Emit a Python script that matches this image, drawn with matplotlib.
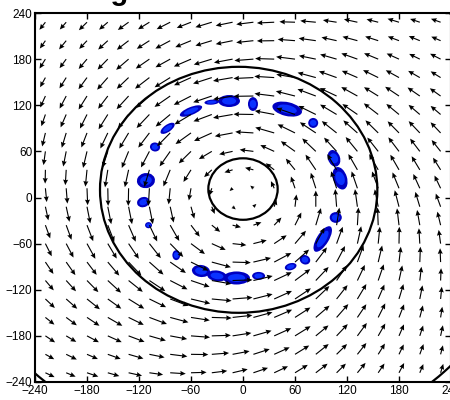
import numpy as np
import matplotlib.pyplot as plt
from matplotlib.patches import Ellipse, Circle

plt.rcParams['font.family'] = ['Liberation Sans', 'DejaVu Sans']

# grid of arrow tails (same for x and y)
grid_pts = [-228, -204, -180, -156, -132, -108, -84, -60, -36, -12,
            12, 36, 60, 84, 108, 132, 156, 180, 204, 228]

# arrow direction in degrees (rows top -> bottom, columns left -> right)
arrow_dir = [
    [235, 232, 228, 224, 219, 215, 210, 204, 199, 193, 188, 183, 178, 174, 170, 166, 164, 161, 159, 158],
    [238, 234, 230, 226, 221, 216, 211, 205, 199, 193, 187, 181, 175, 171, 166, 163, 160, 157, 155, 154],
    [241, 237, 233, 229, 224, 218, 212, 206, 199, 192, 185, 178, 172, 167, 162, 158, 155, 153, 151, 150],
    [244, 241, 237, 232, 227, 221, 215, 207, 200, 191, 183, 176, 169, 163, 158, 154, 151, 148, 147, 145],
    [248, 245, 241, 236, 231, 225, 218, 210, 201, 191, 181, 172, 164, 157, 152, 148, 145, 143, 142, 141],
    [253, 249, 246, 241, 236, 230, 223, 214, 203, 191, 179, 168, 159, 151, 146, 142, 139, 137, 136, 136],
    [258, 255, 251, 247, 242, 236, 229, 219, 207, 192, 176, 162, 151, 143, 138, 135, 132, 131, 130, 130],
    [263, 260, 258, 254, 250, 245, 238, 228, 214, 194, 172, 153, 141, 133, 129, 126, 125, 124, 124, 125],
    [269, 267, 265, 262, 259, 255, 250, 241, 227, 200, 164, 139, 126, 121, 118, 117, 117, 117, 118, 119],
    [275, 274, 272, 271, 269, 267, 265, 261, 253, 226, 136, 112, 107, 106, 106, 107, 108, 110, 112, 113],
    [281, 281, 280, 280, 280, 280, 281, 284, 290, 316, 47, 75, 84, 90, 94, 97, 100, 103, 105, 108],
    [288, 288, 289, 289, 291, 293, 297, 304, 318, 344, 22, 50, 66, 75, 82, 87, 92, 96, 99, 102],
    [294, 295, 296, 298, 301, 305, 311, 320, 333, 353, 16, 37, 53, 64, 72, 79, 85, 89, 93, 97],
    [301, 302, 304, 307, 310, 315, 322, 331, 343, 358, 15, 31, 45, 56, 65, 72, 78, 84, 88, 92],
    [307, 309, 311, 314, 318, 323, 330, 339, 349, 2, 15, 28, 40, 50, 59, 67, 73, 79, 84, 88],
    [313, 315, 318, 321, 325, 331, 337, 345, 354, 5, 16, 27, 37, 47, 55, 62, 69, 75, 80, 85],
    [318, 320, 323, 327, 331, 337, 343, 350, 358, 7, 17, 26, 36, 44, 52, 59, 66, 71, 77, 82],
    [323, 326, 329, 333, 337, 342, 348, 355, 2, 10, 18, 27, 35, 43, 50, 57, 63, 69, 74, 79],
    [328, 331, 334, 338, 342, 347, 352, 359, 5, 12, 20, 27, 35, 42, 48, 55, 61, 67, 72, 77],
    [332, 335, 339, 342, 346, 351, 356, 2, 8, 15, 21, 28, 35, 41, 48, 54, 59, 65, 70, 75],
]

# arrow length (data units)
arrow_len = [
    [12, 12, 14, 14, 16, 16, 18, 18, 20, 20, 20, 20, 18, 18, 16, 16, 14, 14, 12, 12],
    [12, 14, 14, 16, 18, 18, 20, 20, 20, 20, 20, 20, 20, 20, 18, 18, 16, 14, 14, 12],
    [14, 14, 16, 18, 20, 20, 20, 22, 22, 22, 22, 22, 22, 20, 20, 20, 18, 16, 14, 14],
    [14, 16, 18, 20, 20, 22, 22, 22, 23, 23, 23, 23, 22, 22, 22, 20, 20, 18, 16, 14],
    [16, 18, 20, 20, 22, 22, 23, 23, 23, 23, 23, 23, 23, 23, 22, 22, 20, 20, 18, 16],
    [16, 18, 20, 22, 22, 23, 23, 23, 23, 23, 23, 23, 23, 23, 23, 22, 22, 20, 18, 16],
    [18, 20, 20, 22, 23, 23, 23, 23, 23, 21, 21, 23, 23, 23, 23, 23, 22, 20, 20, 18],
    [18, 20, 22, 22, 23, 23, 23, 21, 18, 16, 16, 18, 21, 23, 23, 23, 22, 22, 20, 18],
    [18, 20, 22, 23, 23, 23, 23, 18, 13, 10, 10, 13, 18, 23, 23, 23, 23, 22, 20, 18],
    [18, 20, 22, 23, 23, 23, 21, 16, 10, 5, 5, 10, 16, 21, 23, 23, 23, 22, 20, 18],
    [18, 20, 22, 23, 23, 23, 21, 16, 10, 5, 5, 10, 16, 21, 23, 23, 23, 22, 20, 18],
    [18, 20, 22, 23, 23, 23, 23, 18, 13, 10, 10, 13, 18, 23, 23, 23, 23, 22, 20, 18],
    [18, 20, 22, 22, 23, 23, 23, 21, 18, 16, 16, 18, 21, 23, 23, 23, 22, 22, 20, 18],
    [18, 20, 20, 22, 23, 23, 23, 23, 23, 21, 21, 23, 23, 23, 23, 23, 22, 20, 20, 18],
    [16, 18, 20, 22, 22, 23, 23, 23, 23, 23, 23, 23, 23, 23, 23, 22, 22, 20, 18, 16],
    [16, 18, 20, 20, 22, 22, 23, 23, 23, 23, 23, 23, 23, 23, 22, 22, 20, 20, 18, 16],
    [14, 16, 18, 20, 20, 22, 22, 22, 23, 23, 23, 23, 22, 22, 22, 20, 20, 18, 16, 14],
    [14, 14, 16, 18, 20, 20, 20, 22, 22, 22, 22, 22, 22, 20, 20, 20, 18, 16, 14, 14],
    [12, 14, 14, 16, 18, 18, 20, 20, 20, 20, 20, 20, 20, 20, 18, 18, 16, 14, 14, 12],
    [12, 12, 14, 14, 16, 16, 18, 18, 18, 18, 18, 18, 18, 18, 16, 16, 14, 14, 12, 12],
]

# blue patches around the ring: centre, size, tilt
blob_x = [-36, -16, 11.5, 51, 81, -60, -87, -101.5, -112, -115, -109, -77,
          -48.5, -30, -7.5, 18, 55, 71.5, 92, 107, 112, 105]
blob_y = [124, 125.5, 121.6, 115, 97, 112.5, 90, 65.7, 22, -6, -36, -75,
          -95.6, -102, -104.7, -102, -90, -81, -54, -26, 25, 51]
blob_w = [17, 25, 11.5, 35, 11.5, 28, 20, 11.5, 21, 15, 8, 9,
          21, 23, 31, 15, 14, 11.5, 37, 14, 16, 14]
blob_h = [6.5, 15.6, 18, 18, 13, 10, 9, 12, 19.5, 13, 8, 13,
          15.6, 14, 17, 10.4, 9, 13, 14, 14, 30, 22]
blob_ang = [5, 0, 0, -15, 0, 25, 40, 45, 20, 30, 0, 0,
            -10, -10, 0, 0, 20, 40, 62, 0, 15, 15]

# contour rings
ring_x = [0, -5, -5]
ring_y = [11, 10, 10]
ring_r = [40, 160, 335]

ticks = [-240, -180, -120, -60, 0, 60, 120, 180, 240]

fig = plt.figure(figsize=(4.5, 4.0), dpi=100)
ax = fig.add_axes([35 / 450, 18 / 400, 416 / 450, 369 / 400])

# blobs: dark rim with brighter core
for bx, by, bw, bh, ba in zip(blob_x, blob_y, blob_w, blob_h, blob_ang):
    ax.add_patch(Ellipse((bx, by), bw, bh, angle=ba, facecolor='#0000c0',
                         edgecolor='none', zorder=1))
    ax.add_patch(Ellipse((bx, by), bw * 0.65, bh * 0.6, angle=ba, facecolor='#0a32ff',
                         edgecolor='none', zorder=1.1))

X, Y = np.meshgrid(grid_pts, grid_pts[::-1])
th = np.deg2rad(np.array(arrow_dir, dtype=float))
sp = np.array(arrow_len, dtype=float)
U = sp * np.cos(th)
V = sp * np.sin(th)
ax.quiver(X, Y, U, V, angles='xy', scale_units='xy', scale=1, pivot='tail',
          color='k', width=0.0027, headwidth=4.5, headlength=5, headaxislength=4.5,
          zorder=2)

for cx, cy, cr in zip(ring_x, ring_y, ring_r):
    ax.add_patch(Circle((cx, cy), cr, fill=False, edgecolor='k', lw=1.6, zorder=3))

ax.set_xlim(-240, 240)
ax.set_ylim(-240, 240)
ax.set_xticks(ticks)
ax.set_yticks(ticks)
ax.tick_params(direction='in', length=4, width=1, top=True, right=True,
               labelsize=8.5, pad=2)
for s in ax.spines.values():
    s.set_linewidth(1.5)

# title sits above the picture; only the tail of its "g" reaches in
fig.text(65 / 450, 1.0 + 0.5 / 400, 'Diagnostic', fontsize=21, fontweight='bold',
         ha='left', va='baseline')

fig.savefig('out.png', dpi=100)
